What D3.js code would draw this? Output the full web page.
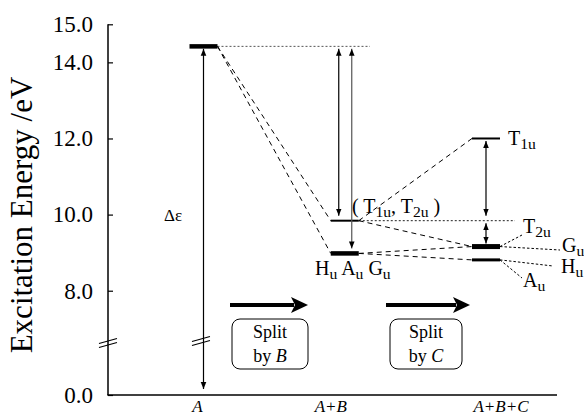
<!DOCTYPE html>
<html><head><meta charset="utf-8">
<script src="https://cdn.jsdelivr.net/npm/d3@7"></script>
</head>
<body style="margin:0;background:#fff">
<svg id="c" width="584" height="417" font-family="Liberation Serif"></svg>
<script>
// ---- data ----
const categories = ["A", "A+B", "A+B+C"];
const yTicks = [0, 8, 10, 12, 14, 15];
const yTickLabels = ["0.0", "8.0", "10.0", "12.0", "14.0", "15.0"];
const levelIds = ["A", "AB_T", "AB_HAG", "ABC_T1u", "ABC_T2uGu", "ABC_HuAu"];
const levelStage = ["A", "A+B", "A+B", "A+B+C", "A+B+C", "A+B+C"];
const levelEnergy = [14.42, 9.84, 8.98, 12.0, 9.16, 8.81];
const levelDegeneracy = [15, 6, 9, 3, 7, 5];
const links = [["A","AB_T"],["A","AB_HAG"],["AB_T","ABC_T1u"],["AB_T","ABC_T2uGu"],["AB_HAG","ABC_T2uGu"],["AB_HAG","ABC_HuAu"]];
const gapArrows = [["A", 14.42, 0], ["A+B", 14.42, 9.84], ["A+B", 14.42, 8.98], ["A+B+C", 12.0, 9.84], ["A+B+C", 9.84, 9.16]];
const splitLabels = [["Split","by ","B"],["Split","by ","C"]];

const FONT = "Liberation Serif";
const svg = d3.select("#c");
const y = d3.scaleLinear().domain([0, 6.6, 15]).range([395, 344, 24.3]);
const x = d3.scalePoint().domain(categories).range([203.5, 486]);
const lv = {};
levelIds.forEach((id,i)=>lv[id]={x:x(levelStage[i]), y:y(levelEnergy[i]), e:levelEnergy[i], d:levelDegeneracy[i]});
const hw = 14;

function txt(xx, yy, size){
  return svg.append("text").attr("x",xx).attr("y",yy).attr("font-size",size).attr("font-family",FONT).attr("fill","#000");
}

// markers
const defs = svg.append("defs");
defs.append("marker").attr("id","ah").attr("viewBox","0 0 10 10").attr("refX",10).attr("refY",5)
   .attr("markerWidth",7).attr("markerHeight",7).attr("markerUnits","userSpaceOnUse").attr("orient","auto-start-reverse")
   .append("path").attr("d","M0,1 L10,5 L0,9 Z").attr("fill","#000");

// axes
const yAxis = d3.axisRight(y).tickValues(yTicks).tickSize(5).tickFormat((d,i)=>yTickLabels[i]);
const ga = svg.append("g").attr("transform","translate(108,0)").call(yAxis).attr("font-family",FONT);
ga.select(".domain").remove();
ga.selectAll(".tick line").attr("stroke","#000").attr("stroke-width",1.2);
ga.selectAll(".tick text").attr("x",-15).attr("text-anchor","end").attr("font-size",23)
  .attr("font-family",FONT).attr("fill","#000");
svg.append("line").attr("x1",108).attr("x2",108).attr("y1",y(15)).attr("y2",395).attr("stroke","#000").attr("stroke-width",1.5);
svg.append("line").attr("x1",107.3).attr("x2",557).attr("y1",395).attr("y2",395).attr("stroke","#000").attr("stroke-width",1.5);

// break marks
function breakMark(cx, cy){
  [-2,2].forEach(o=>svg.append("line").attr("x1",cx-9).attr("y1",cy+o+2.5).attr("x2",cx+9).attr("y2",cy+o-2.5)
     .attr("stroke","#000").attr("stroke-width",1.2));
}
breakMark(108, 343);
breakMark(201, 341);

// axis title
svg.append("text").attr("transform","translate(32,215) rotate(-90)").attr("text-anchor","middle")
  .attr("font-family",FONT).attr("font-size",31).attr("fill","#000").text("Excitation Energy /eV");

// category labels
const catDx = {"A":-6, "A+B":-14, "A+B+C":15};
categories.forEach(c=>txt(x(c)+catDx[c],412,17).attr("text-anchor","middle").attr("font-style","italic").text(c));

// dotted reference lines
svg.append("line").attr("x1",lv.A.x+hw).attr("x2",370).attr("y1",lv.A.y).attr("y2",lv.A.y)
  .attr("stroke","#555").attr("stroke-width",1).attr("stroke-dasharray","2,2");
svg.append("line").attr("x1",lv.AB_T.x+hw).attr("x2",515).attr("y1",lv.AB_T.y).attr("y2",lv.AB_T.y)
  .attr("stroke","#222").attr("stroke-width",1).attr("stroke-dasharray","2,2");

// connecting dashed lines
links.forEach(([a,b])=>{
  svg.append("line").attr("x1",lv[a].x+hw).attr("y1",lv[a].y).attr("x2",lv[b].x-hw).attr("y2",lv[b].y)
    .attr("stroke","#000").attr("stroke-width",1).attr("stroke-dasharray","5,4");
});

// levels
svg.selectAll("line.lvl").data(levelIds).join("line").attr("class","lvl")
  .attr("x1",d=>lv[d].x-hw).attr("x2",d=>lv[d].x+hw).attr("y1",d=>lv[d].y).attr("y2",d=>lv[d].y)
  .attr("stroke","#000").attr("stroke-width",d=>lv[d].d>=9?4.5:(lv[d].d===7?5:(lv[d].d===5?3:2)));

// gap arrows
const arrowDx = [0,-6,7,0,0];
gapArrows.forEach(([st,e1,e2],i)=>{
  const xx = x(st)+arrowDx[i];
  const y1 = y(e1)+2.5, y2 = (i===0)?389:y(e2)-(i===4?3:5);
  svg.append("line").attr("x1",xx).attr("x2",xx).attr("y1",y1).attr("y2",y2)
    .attr("stroke", i===2?"#555":"#000").attr("stroke-width",1.2)
    .attr("marker-start","url(#ah)").attr("marker-end","url(#ah)");
});

txt(173,221,17).attr("text-anchor","middle").text("Δε");

// subscript text helper
function sub(g, parts){
  parts.forEach(p=>{
    if(typeof p==="string") g.append("tspan").text(p);
    else g.append("tspan").attr("font-size","78%").attr("baseline-shift","-25%").text(p.s);
  });
}
let t;
t = txt(352,213,20).attr("xml:space","preserve"); sub(t, ["( T", {s:"1u"}, ", T", {s:"2u"}, " )"]);
t = txt(315,275,20).attr("xml:space","preserve"); sub(t, ["H", {s:"u"}, " A", {s:"u"}, " G", {s:"u"}]);

// A+B+C labels with leaders
t = txt(508,145,20); sub(t, ["T", {s:"1u"}]);
const leaders = [["ABC_T2uGu",522,235,"T","2u",523,233],["ABC_T2uGu",560,250,"G","u",562,252],
                 ["ABC_HuAu",553,266,"H","u",561,273],["ABC_HuAu",522,278,"A","u",523,287]];
leaders.forEach(([id,lx,ly,a,b,tx,ty])=>{
  svg.append("line").attr("x1",lv[id].x+hw).attr("y1",lv[id].y).attr("x2",lx).attr("y2",ly)
    .attr("stroke","#000").attr("stroke-width",1).attr("stroke-dasharray","2.5,2");
  sub(txt(tx,ty,20),[a,{s:b}]);
});

// split arrows & boxes
const split = [[230,308,232,308],[386,470,390,462]];
split.forEach(([a1,a2,b1,b2],i)=>{
  svg.append("line").attr("x1",a1).attr("x2",a2-14).attr("y1",305).attr("y2",305).attr("stroke","#000").attr("stroke-width",4);
  svg.append("path").attr("d",`M${a2},305 L${a2-17},297 L${a2-13},305 L${a2-17},313 Z`).attr("fill","#000");
  svg.append("rect").attr("x",b1).attr("y",319).attr("width",b2-b1).attr("height",50).attr("rx",8)
    .attr("fill","none").attr("stroke","#000").attr("stroke-width",1);
  const cx=(b1+b2)/2;
  txt(cx,338,18).attr("text-anchor","middle").text(splitLabels[i][0]);
  const tt = txt(cx,362,18).attr("text-anchor","middle").attr("xml:space","preserve");
  tt.append("tspan").text(splitLabels[i][1]);
  tt.append("tspan").attr("font-style","italic").text(splitLabels[i][2]);
});
</script>
</body></html>
